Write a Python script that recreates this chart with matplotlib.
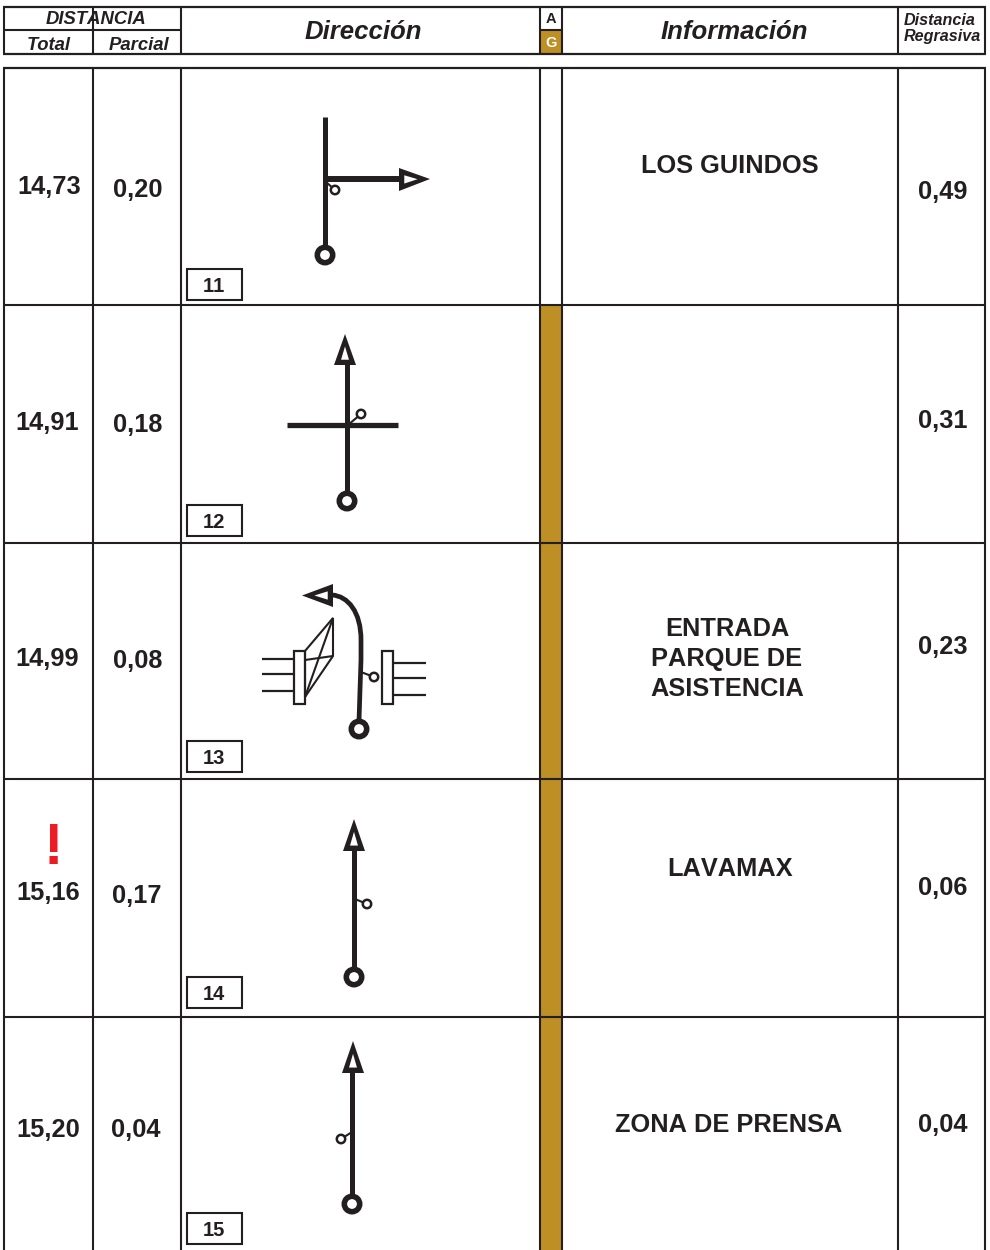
import matplotlib
matplotlib.use('Agg')
import matplotlib.pyplot as plt
from matplotlib.patches import Rectangle, Circle, Polygon, PathPatch
from matplotlib.path import Path

plt.rcParams['font.family'] = ['Liberation Sans', 'DejaVu Sans']
# the page has no kerning, "11" must not close up
plt.rcParams['text.kerning_factor'] = 6

INK = '#231F20'
GOLD = '#BD8F24'

# values
totals = ['14,73', '14,91', '14,99', '15,16', '15,20']
partials = ['0,20', '0,18', '0,08', '0,17', '0,04']
regressive = ['0,49', '0,31', '0,23', '0,06', '0,04']
info = ['LOS GUINDOS', '', 'ENTRADA\nPARQUE DE\nASISTENCIA', 'LAVAMAX', 'ZONA DE PRENSA']
box_numbers = ['11', '12', '13', '14', '15']

# page layout, in pixels
col_x = [4, 93, 181, 540, 562, 898, 985]
row_y = [68, 305, 543, 779, 1017]
total_pos = [(49, 187.5), (47, 423), (47, 659), (48, 893.5), (48, 1130)]
partial_pos = [(138, 190), (138, 425), (138, 661), (137, 896), (136, 1130)]
regr_pos = [(943, 192), (943, 421), (943, 647), (943, 888), (943, 1125)]
info_pos = [(730, 166), (730, 420), (727, 659), (730, 869), (729, 1125)]
box_top = [269, 505, 741, 977, 1213]

# route sketch geometry: start ring, stem end, small ring and its tick, arrow head
ring_xy = [(325, 255), (347, 501), (359, 729), (354, 977), (352, 1204)]
small_ring_xy = [(335, 190), (361, 414), (374, 677), (367, 904), (341, 1139)]
tick_start = [(326, 182), (348, 425), (361, 672), (355, 899), (352, 1132)]
stem_top = [(325, 117), (347, 362), None, (354, 848), (352, 1070)]
arrow_tips = [(430, 179), (345, 334), (302, 595.5), (354, 819), (353, 1041)]
arrow_bases = [
    [(399, 168), (399, 191)],
    [(334, 365), (356, 365)],
    [(333, 584), (333, 607)],
    [(343, 851), (365, 851)],
    [(342, 1073), (364, 1073)],
]

fig = plt.figure(figsize=(9.9, 12.5), dpi=100)
ax = fig.add_axes([0, 0, 1, 1])
ax.set_xlim(0, 990)
ax.set_ylim(1250, 0)
ax.axis('off')


def line(xs, ys, lw=1.5, zorder=3):
    ax.plot(xs, ys, color=INK, lw=lw, solid_capstyle='butt', zorder=zorder)


def arrow_head(tip, base):
    # solid triangle with a small white hole, as the page draws them
    mx, my = (base[0][0] + base[1][0]) / 2, (base[0][1] + base[1][1]) / 2
    ax.add_patch(Polygon([tip, base[0], base[1]], closed=True, fc=INK, ec='none', zorder=6))
    hole = []
    for f, w in [(0.4, 0), (0.83, 0.36), (0.83, -0.36)]:
        cx = tip[0] + (mx - tip[0]) * f
        cy = tip[1] + (my - tip[1]) * f
        hole.append((cx + (base[0][0] - mx) * w, cy + (base[0][1] - my) * w))
    ax.add_patch(Polygon(hole, closed=True, fc='white', ec='none', zorder=7))


# gold stripe and header cell
ax.add_patch(Rectangle((541, 306), 20, 944, fc=GOLD, ec='none', zorder=1))
ax.add_patch(Rectangle((541, 30), 20, 24, fc=GOLD, ec='none', zorder=1))

# header grid
line([3, 986], [7, 7], 1.6)
line([3, 986], [54, 54], 1.6)
line([4, 181], [30, 30], 1.5)
line([540, 562], [30, 30], 1.5)
for x in col_x:
    line([x, x], [7, 54], 1.5)

# body grid
line([3, 986], [68, 68], 1.6)
for y in row_y[1:]:
    line([4, 985], [y, y], 1.5)
for x in col_x:
    line([x, x], [68, 1250], 1.5)

# header text
ax.text(96, 19.5, 'DISTANCIA', fontsize=13.3, weight='bold', style='italic', color=INK, ha='center', va='center')
ax.text(49, 45, 'Total', fontsize=13.3, weight='bold', style='italic', color=INK, ha='center', va='center')
ax.text(139, 45, 'Parcial', fontsize=13.3, weight='bold', style='italic', color=INK, ha='center', va='center')
ax.text(363, 32, 'Dirección', fontsize=18.5, weight='bold', style='italic', color=INK, ha='center', va='center')
ax.text(734, 32, 'Información', fontsize=18.5, weight='bold', style='italic', color=INK, ha='center', va='center')
ax.text(551, 19, 'A', fontsize=10.5, weight='bold', color=INK, ha='center', va='center')
ax.text(551, 43, 'G', fontsize=10.5, weight='bold', color='white', ha='center', va='center')
ax.text(904, 20.5, 'Distancia', fontsize=11.6, weight='bold', style='italic', color=INK, ha='left', va='center')
ax.text(904, 36.5, 'Regrasiva', fontsize=11.6, weight='bold', style='italic', color=INK, ha='left', va='center')

# row text
for i in range(5):
    ax.text(*total_pos[i], totals[i], fontsize=18.3, weight='bold', color=INK, ha='center', va='center')
    ax.text(*partial_pos[i], partials[i], fontsize=18.3, weight='bold', color=INK, ha='center', va='center')
    ax.text(*regr_pos[i], regressive[i], fontsize=18.3, weight='bold', color=INK, ha='center', va='center')
    if info[i]:
        ax.text(*info_pos[i], info[i], fontsize=18.3, weight='bold', color=INK, ha='center', va='center', linespacing=1.33)
    ax.add_patch(Rectangle((187, box_top[i]), 55, 31, fc='white', ec=INK, lw=1.5, zorder=3))
    ax.text(214, box_top[i] + 17, box_numbers[i], fontsize=14.5, weight='bold', color=INK, ha='center', va='center', zorder=4)

ax.text(53, 849, '!', fontsize=42, weight='bold', color='#ED1C24', ha='center', va='center')

# route sketches
for i in range(5):
    rx, ry = ring_xy[i]
    if stem_top[i] is not None:
        line([rx, stem_top[i][0]], [ry, stem_top[i][1]], 3.6, 4)
    ax.add_patch(Circle((rx, ry), 7.7, fc='white', ec=INK, lw=4, zorder=6))
    sx, sy = small_ring_xy[i]
    tx, ty = tick_start[i]
    line([tx, sx], [ty, sy], 1.5, 4)
    ax.add_patch(Circle((sx, sy), 4.2, fc='white', ec=INK, lw=1.8, zorder=5))
    arrow_head(arrow_tips[i], arrow_bases[i])

# row 11: branch to the right
line([325, 402], [179, 179], 4.3, 4)
# row 12: crossing road
line([287, 398], [425, 425], 3.8, 4)

# row 13: curved route with the two gates and the service park
curve = Path([(359, 721), (360, 690), (361, 660), (361, 640), (361, 612), (348, 596), (332, 595)],
             [Path.MOVETO, Path.LINETO, Path.LINETO, Path.LINETO, Path.CURVE4, Path.CURVE4, Path.CURVE4])
ax.add_patch(PathPatch(curve, fc='none', ec=INK, lw=3.4, capstyle='butt', zorder=4))
for x0, x1, ys in [(262, 294, [659, 674, 691]), (393, 426, [663, 678, 695])]:
    for y in ys:
        line([x0, x1], [y, y], 1.6)
ax.add_patch(Rectangle((294, 651), 11, 53, fc='white', ec=INK, lw=1.6, zorder=4))
ax.add_patch(Rectangle((382, 651), 11, 53, fc='white', ec=INK, lw=1.6, zorder=4))
ax.add_patch(Polygon([(305, 651), (333, 618), (333, 656), (305, 697)], closed=True, fc='none', ec=INK, lw=1.5, zorder=4))
line([333, 305], [618, 697], 1.5, 4)
line([305, 333], [660, 656], 1.5, 4)

fig.savefig('out.png', dpi=100)
